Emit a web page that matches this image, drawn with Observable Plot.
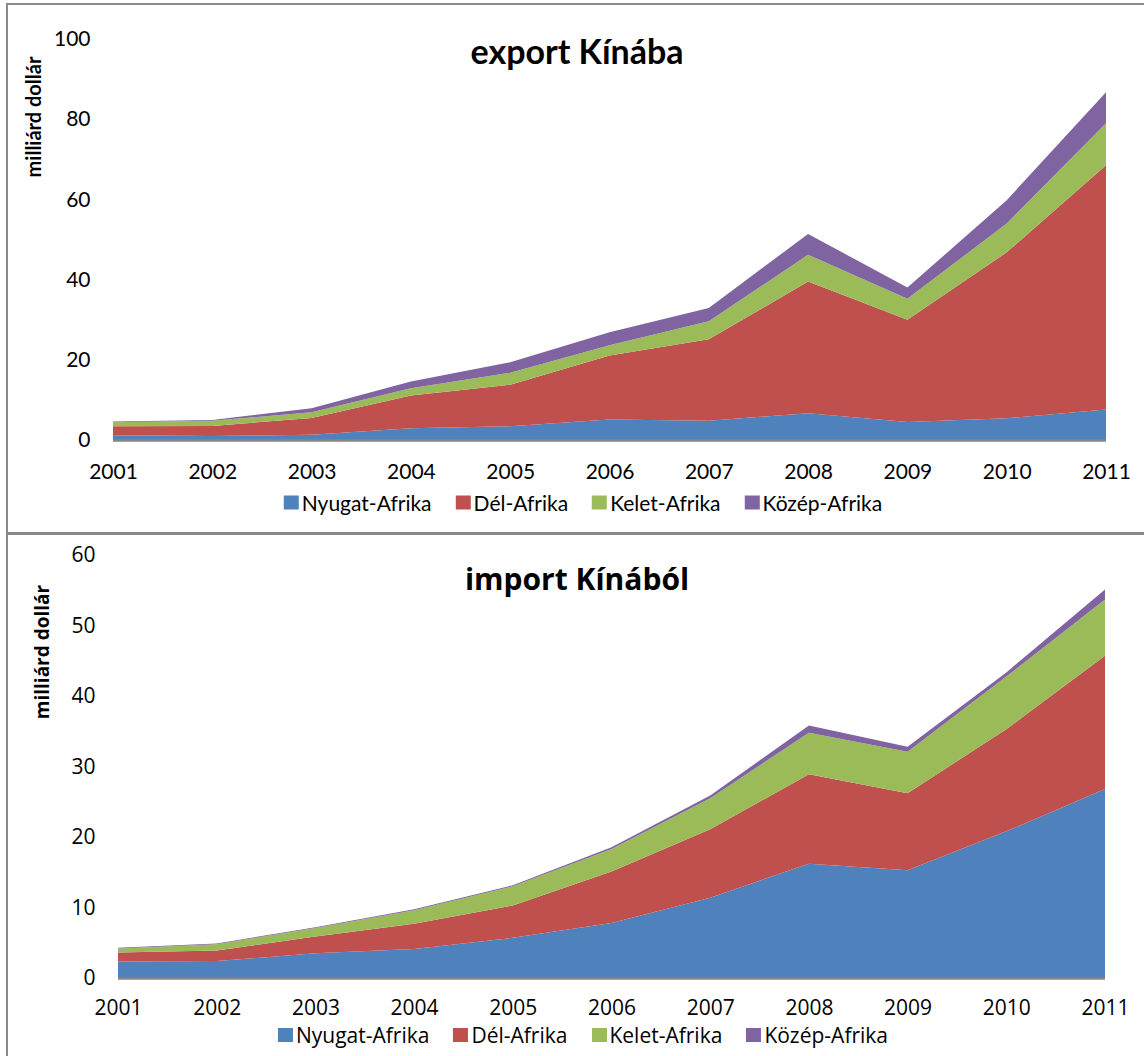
<!DOCTYPE html>
<html>
<head>
<meta charset="utf-8">
<script src="https://cdn.jsdelivr.net/npm/d3@7"></script>
<script src="https://cdn.jsdelivr.net/npm/@observablehq/plot@0.6"></script>
<style>
  html, body { margin: 0; padding: 0; background: #fff; overflow: hidden; }
  #page { position: relative; width: 1144px; height: 1056px; overflow: hidden; background: #fff; }
  .panel { position: absolute; border: 2px solid #8a8a8a; box-sizing: border-box; }
  .title { position: absolute; font-weight: bold; color: #000; white-space: nowrap; transform: translate(-50%, -50%); }
  .ylab { position: absolute; font-weight: bold; color: #000; white-space: nowrap; transform: translate(-50%, -50%) rotate(-90deg); }
  .legend { position: absolute; display: flex; align-items: center; white-space: nowrap; transform: translate(-50%, -50%); color: #000; }
  .legend .item { display: flex; align-items: center; margin: 0 12px; }
  .legend .sw { width: 15px; height: 14px; margin-right: 3px; }
</style>
</head>
<body>
<div id="page">
  <div class="panel" style="left:6px; top:3px; width:1160px; height:532px;"></div>
  <div class="panel" style="left:6px; top:532px; width:1160px; height:600px;"></div>
</div>
<script>
// ---- data ----
const years = [2001, 2002, 2003, 2004, 2005, 2006, 2007, 2008, 2009, 2010, 2011];
const regions = ["Nyugat-Afrika", "Dél-Afrika", "Kelet-Afrika", "Közép-Afrika"];
const regionColors = ["#4F81BD", "#C0504D", "#9BBB59", "#8064A2"];

// export Kínába (milliárd dollár)
const exportNyugat = [1.2, 1.0, 1.3, 2.9, 3.4, 5.1, 4.8, 6.7, 4.5, 5.4, 7.6];
const exportDel    = [2.2, 2.5, 4.2, 8.2, 10.4, 16.0, 20.3, 32.8, 25.5, 41.4, 60.9];
const exportKelet  = [1.0, 1.3, 1.4, 1.8, 3.0, 2.5, 4.5, 6.7, 5.2, 7.2, 10.5];
const exportKozep  = [0.2, 0.2, 1.0, 1.7, 2.6, 3.3, 3.3, 5.2, 2.8, 5.8, 7.7];

// import Kínából (milliárd dollár)
const importNyugat = [2.35, 2.4, 3.5, 4.1, 5.7, 7.8, 11.4, 16.2, 15.3, 20.8, 26.8];
const importDel    = [1.25, 1.5, 2.4, 3.6, 4.6, 7.3, 9.7, 12.7, 10.9, 14.5, 18.9];
const importKelet  = [0.6, 0.9, 1.2, 1.9, 2.7, 3.2, 4.4, 5.9, 5.9, 7.45, 8.0];
const importKozep  = [0.1, 0.1, 0.1, 0.15, 0.15, 0.25, 0.4, 1.0, 0.7, 0.6, 1.4];

const exportTicks = [0, 20, 40, 60, 80, 100];
const importTicks = [0, 10, 20, 30, 40, 50, 60];

const exportTitle = "export Kínába";
const importTitle = "import Kínából";
const yTitle = "milliárd dollár";

function toLong(series) {
  const rows = [];
  regions.forEach((r, i) => {
    years.forEach((yr, j) => rows.push({ year: yr, region: r, value: series[i][j] }));
  });
  return rows;
}

const exportData = toLong([exportNyugat, exportDel, exportKelet, exportKozep]);
const importData = toLong([importNyugat, importDel, importKelet, importKozep]);

const page = document.getElementById("page");

function makeChart(cfg) {
  const chart = Plot.plot({
    width: 1144,
    height: cfg.height,
    marginLeft: cfg.ml,
    marginRight: cfg.mr,
    marginTop: cfg.mt,
    marginBottom: cfg.mb,
    style: { fontFamily: cfg.font, fontSize: "21px", color: "#000", background: "transparent", overflow: "visible" },
    x: { domain: [2001, 2011], ticks: years, tickFormat: d => String(d), tickSize: 0, tickPadding: cfg.xpad, label: null },
    y: { domain: cfg.domain, ticks: cfg.ticks, tickSize: 0, tickPadding: 23, label: null },
    color: { domain: regions, range: regionColors },
    marks: [
      Plot.areaY(cfg.data, { x: "year", y: "value", fill: "region", order: regions, curve: "linear" }),
      Plot.ruleY([0], { stroke: "#868686", strokeWidth: 2.5 })
    ]
  });
  chart.style.position = "absolute";
  chart.style.left = "0px";
  chart.style.top = cfg.top + "px";
  page.appendChild(chart);
}

function addText(cls, text, x, y, font, size) {
  const d = document.createElement("div");
  d.className = cls;
  d.textContent = text;
  d.style.left = x + "px";
  d.style.top = y + "px";
  d.style.fontFamily = font;
  d.style.fontSize = size + "px";
  page.appendChild(d);
}

function addLegend(x, y, font) {
  const lg = document.createElement("div");
  lg.className = "legend";
  lg.style.left = x + "px";
  lg.style.top = y + "px";
  lg.style.fontFamily = font;
  lg.style.fontSize = "21px";
  regions.forEach((r, i) => {
    const it = document.createElement("div");
    it.className = "item";
    const sw = document.createElement("div");
    sw.className = "sw";
    sw.style.background = regionColors[i];
    const tx = document.createElement("span");
    tx.textContent = r;
    it.appendChild(sw);
    it.appendChild(tx);
    lg.appendChild(it);
  });
  page.appendChild(lg);
}

// top chart: y(100)=39, y(0)=440 ; x 113..1106
makeChart({ data: exportData, top: 0, height: 500, mt: 39, mb: 60, ml: 113, mr: 38,
            domain: [0, 100], ticks: exportTicks, font: "Lato", xpad: 24 });
// bottom chart: y(60)=555, y(0)=978 ; x 118..1105
makeChart({ data: importData, top: 518, height: 505, mt: 37, mb: 45, ml: 118, mr: 39,
            domain: [0, 60], ticks: importTicks, font: "'Open Sans'", xpad: 22 });

addText("title", exportTitle, 577, 50, "Lato", 34);
addText("title", importTitle, 577, 578, "'Open Sans'", 30);
addText("ylab", yTitle, 33, 117, "Lato", 20);
addText("ylab", yTitle, 42, 652, "'Open Sans'", 19);
addLegend(583, 502, "Lato");
addLegend(583, 1035, "'Open Sans'");
</script>
</body>
</html>
